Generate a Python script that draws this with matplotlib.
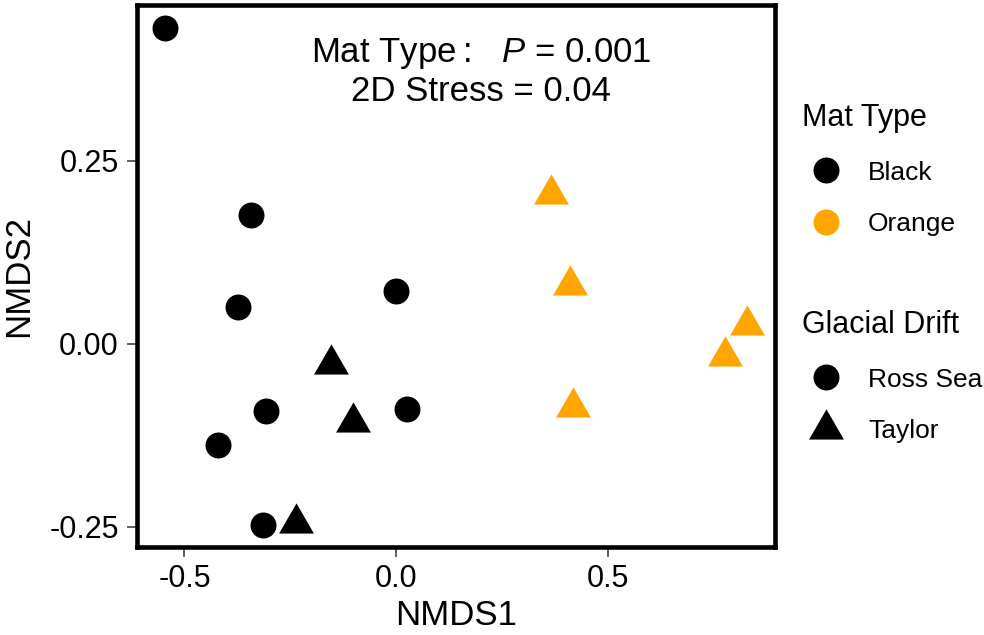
import numpy as np
import matplotlib
matplotlib.use("Agg")
import matplotlib.pyplot as plt
from matplotlib.lines import Line2D

plt.rcParams['font.family'] = ['Liberation Sans', 'DejaVu Sans']
plt.rcParams['mathtext.fontset'] = 'custom'
plt.rcParams['mathtext.rm'] = 'Liberation Sans'
plt.rcParams['mathtext.it'] = 'Liberation Sans:italic'

# ---- data ----
mat_type = ['Black'] * 11 + ['Orange'] * 5
drift = ['Ross Sea'] * 8 + ['Taylor'] * 3 + ['Taylor'] * 5
nmds1 = [-0.545, -0.344, -0.373, -0.002, -0.307, 0.025, -0.422, -0.314,
         -0.155, -0.102, -0.238,
         0.364, 0.410, 0.827, 0.776, 0.416]
nmds2 = [0.432, 0.176, 0.050, 0.072, -0.092, -0.090, -0.139, -0.248,
         -0.028, -0.107, -0.245,
         0.204, 0.080, 0.026, -0.017, -0.086]
mat_levels = ['Black', 'Orange']
drift_levels = ['Ross Sea', 'Taylor']
x_ticks = [-0.5, 0.0, 0.5]
y_ticks = [-0.25, 0.00, 0.25]
y_ticklabels = ['-0.25', '0.00', '0.25']
annot_line1 = 'Mat Type\u2009:   $\\it{P}$ = 0.001'
annot_line2 = '2D Stress = 0.04'

# ---- styles ----
colors = {'Black': '#000000', 'Orange': '#FFA500'}
tri = [(0, 1), (-0.8660254, -0.5), (0.8660254, -0.5), (0, 1)]
markers = {'Ross Sea': 'o', 'Taylor': tri}
msizes = {'Ross Sea': 18.7, 'Taylor': 29.0}

fig = plt.figure(figsize=(9.84, 6.35), dpi=100)
ax = fig.add_axes([137 / 984, 1 - 547 / 635, (775 - 137) / 984, (547 - 5) / 635])

x = np.array(nmds1)
y = np.array(nmds2)
mt = np.array(mat_type)
dr = np.array(drift)
for m in mat_levels:
    for d in drift_levels:
        sel = (mt == m) & (dr == d)
        if sel.any():
            ax.plot(x[sel], y[sel], ls='none', marker=markers[d],
                    ms=msizes[d], color=colors[m], mec='none', zorder=3)

ax.set_xlim(-0.612, 0.893)
ax.set_ylim(-0.278, 0.463)
ax.set_xticks(x_ticks)
ax.set_xticklabels([f'{v:.1f}' for v in x_ticks])
ax.set_yticks(y_ticks)
ax.set_yticklabels(y_ticklabels)
ax.tick_params(direction='out', length=7, width=1.1, color='#333333',
               labelsize=22, labelcolor='black', pad=6)
ax.tick_params(axis='x', pad=5.5)
for s in ax.spines.values():
    s.set_linewidth(3.3)
    s.set_color('black')
ax.set_xlabel('NMDS1', fontsize=25, labelpad=3)
ax.set_ylabel('NMDS2', fontsize=25, labelpad=10)

ax.text(0.2, 0.385, annot_line1, fontsize=25, ha='center', va='baseline')
ax.text(0.2, 0.332, annot_line2, fontsize=25, ha='center', va='baseline')

# legends
h1 = [Line2D([], [], ls='none', marker='o', ms=msizes['Ross Sea'],
             color=colors[m], mec='none') for m in mat_levels]
h2 = [Line2D([], [], ls='none', marker=markers[d], ms=msizes[d],
             color='black', mec='none') for d in drift_levels]
common = dict(loc='upper left', frameon=False, fontsize=19, title_fontsize=22,
              alignment='left', handlelength=1.8, handletextpad=0.7,
              labelspacing=1.05, borderpad=0, borderaxespad=0, numpoints=1)
leg1 = fig.legend(h1, mat_levels, title='Mat Type',
                  bbox_to_anchor=(802 / 984, 1 - 103 / 635), **common)
leg2 = fig.legend(h2, drift_levels, title='Glacial Drift',
                  bbox_to_anchor=(802 / 984, 1 - 310 / 635), **common)

fig.savefig('out.png', dpi=100)
